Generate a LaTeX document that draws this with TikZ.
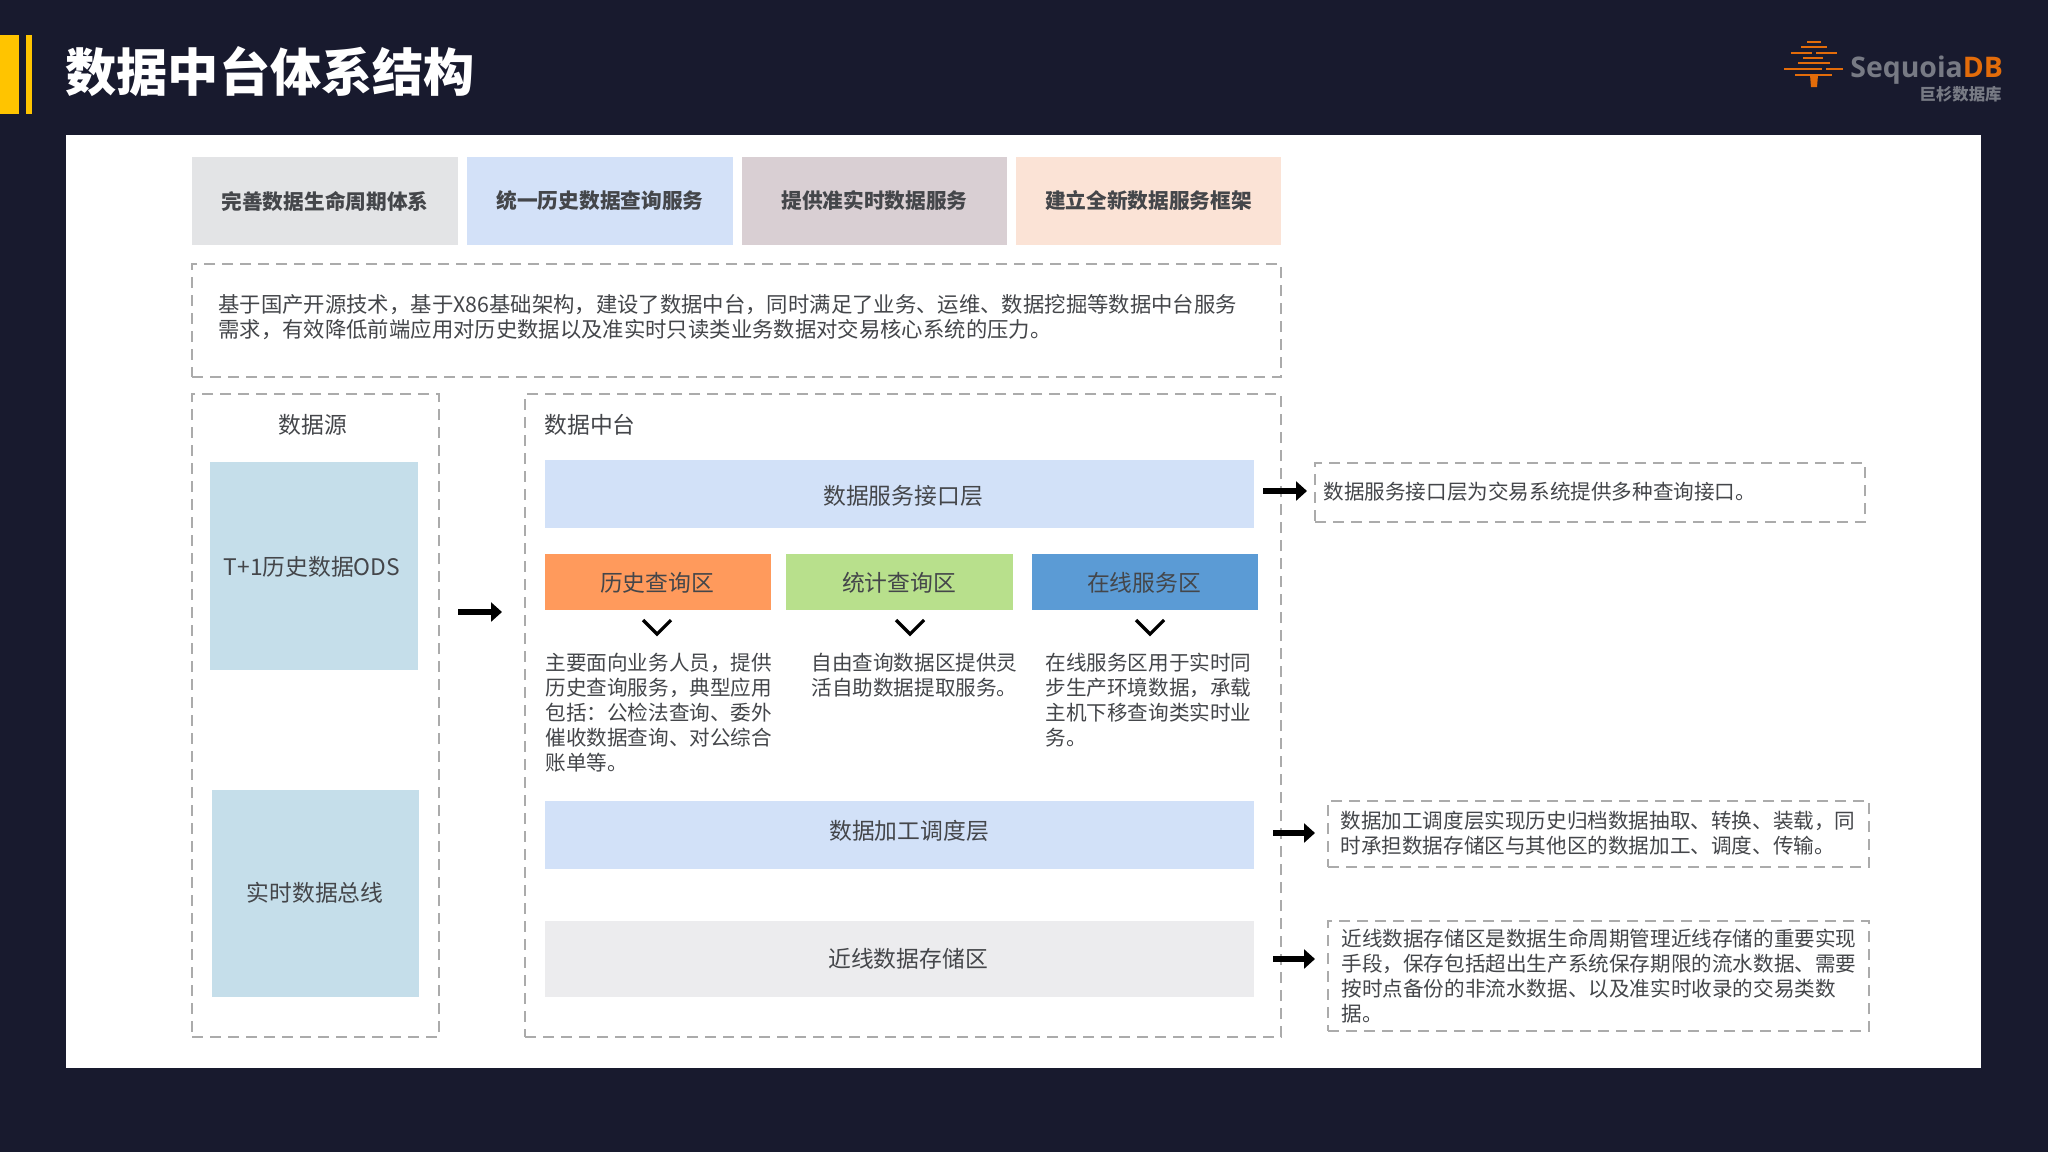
\documentclass[tikz,border=0pt]{standalone}
\usepackage{fontspec}
\usetikzlibrary{arrows.meta}
\setmainfont{Noto Sans CJK SC}
\newfontfamily\latinlogo{Open Sans}
\definecolor{pagebg}{HTML}{181A2E}
\definecolor{amber}{HTML}{FFC400}
\definecolor{inktext}{HTML}{44464A}
\definecolor{dashgray}{HTML}{ABABAB}
\definecolor{topa}{HTML}{E3E4E6}
\definecolor{topb}{HTML}{D3E1F8}
\definecolor{topc}{HTML}{D9CFD3}
\definecolor{topd}{HTML}{FBE3D6}
\definecolor{layerblue}{HTML}{D2E1F8}
\definecolor{layergray}{HTML}{ECECEE}
\definecolor{srcblue}{HTML}{C5DEEA}
\definecolor{zoneorange}{HTML}{FF9A5C}
\definecolor{zonegreen}{HTML}{B8E08C}
\definecolor{zoneblue}{HTML}{5B9BD5}
\definecolor{logoorange}{HTML}{E36C0A}
\definecolor{logogray}{HTML}{777A84}
\newcommand{\bx}[7]{%
  \pgfmathsetmacro\cxx{(#2+#4)/2}\pgfmathsetmacro\cyy{(#3+#5)/2}%
  \pgfmathsetmacro\ww{(#4-#2)*0.5}\pgfmathsetmacro\hh{(#5-#3)*0.5}%
  \node[#6,minimum width=\ww pt,minimum height=\hh pt,inner sep=0pt] (#1) at (\cxx,\cyy) {#7};}
\tikzset{
  flatbox/.style={draw=none,text=inktext},
  topbox/.style={flatbox,font=\fontsize{10.35}{12}\selectfont\bfseries},
  layerbox/.style={flatbox,font=\fontsize{11.4}{13}\selectfont},
  dashbox/.style={draw=dashgray,line width=0.6pt,dash pattern=on 5.5pt off 3.5pt},
  bodytext/.style={anchor=west,align=left,inner sep=0pt,text=inktext,font=\fontsize{10.3}{12.5}\selectfont},
  headtext/.style={inner sep=0pt,text=inktext,font=\fontsize{11.4}{13}\selectfont},
  blockarrow/.style={black,line width=2.8pt,-{Triangle[length=5.5pt,width=9.5pt]}},
  chevron/.style={black,line width=1.6pt,miter limit=4},
  logoline/.style={logoorange,line width=1.1pt}
}
\begin{document}
\begin{tikzpicture}[x=0.5pt,y=-0.5pt]
\useasboundingbox (0,0) rectangle (2048,1152);
\fill[pagebg] (0,0) rectangle (2048,1152);
\fill[amber] (0,35) rectangle (19,114);
\fill[amber] (26,35) rectangle (32,114);
\node[anchor=west,inner sep=0pt,text=white,font=\fontsize{25.6}{30}\selectfont\bfseries] (title) at (65,72) {数据中台体系结构};
\bx{panel}{66}{135}{1981}{1068}{fill=white}{}
% logo
\draw[logoline] (1807,42) -- (1821,42);
\draw[logoline] (1801,47) -- (1827,47);
\draw[logoline] (1791,53) -- (1812,53) (1816,53) -- (1837,53);
\draw[logoline] (1803,58) -- (1823,58);
\draw[logoline] (1798,63) -- (1830,63);
\draw[logoline] (1784,69) -- (1822,69) (1826,69) -- (1843,69);
\draw[logoline] (1795,75) -- (1832,75);
\fill[logoorange] (1810,75) -- (1818,75) -- (1817,87) -- (1811,87) -- cycle;
\node[anchor=west,inner sep=0pt,font=\latinlogo\fontsize{14.2}{18}\selectfont\bfseries,text=logogray] (logotext) at (1850,70) {Sequoia\textcolor{logoorange}{DB}};
\node[anchor=east,inner sep=0pt,font=\fontsize{8.2}{9}\selectfont\bfseries,text=logogray] (logocn) at (2002,94) {巨杉数据库};
% top boxes
\bx{goala}{192}{157}{458}{245}{topbox,fill=topa}{完善数据生命周期体系}
\bx{goalb}{467}{157}{733}{245}{topbox,fill=topb}{统一历史数据查询服务}
\bx{goalc}{742}{157}{1007}{245}{topbox,fill=topc}{提供准实时数据服务}
\bx{goald}{1016}{157}{1281}{245}{topbox,fill=topd}{建立全新数据服务框架}
% description
\bx{descbox}{192}{264}{1281}{377}{dashbox}{}
\node[bodytext,font=\fontsize{10.68}{12.5}\selectfont] (desctext) at (218,317) {基于国产开源技术，基于X86基础架构，建设了数据中台，同时满足了业务、运维、数据挖掘等数据中台服务\\需求，有效降低前端应用对历史数据以及准实时只读类业务数据对交易核心系统的压力。};
% source frame
\bx{srcframe}{192}{394}{439}{1037}{dashbox}{}
\node[headtext] (srchead) at (313,425) {数据源};
\bx{srca}{210}{462}{418}{670}{layerbox,fill=srcblue}{}
\node[headtext] (srcatext) at (312,567) {T+1历史数据ODS};
\bx{srcb}{212}{790}{419}{997}{layerbox,fill=srcblue}{}
\node[headtext] (srcbtext) at (315,893) {实时数据总线};
% platform frame
\bx{midframe}{525}{394}{1281}{1037}{dashbox}{}
\node[headtext,anchor=west] (midhead) at (544,425) {数据中台};
\bx{layera}{545}{460}{1254}{528}{layerbox,fill=layerblue}{}
\node[headtext] (layeratext) at (903,495.5) {数据服务接口层};
\bx{zonea}{545}{554}{771}{610}{layerbox,fill=zoneorange}{}
\node[headtext] (zoneatext) at (657,583) {历史查询区};
\bx{zoneb}{786}{554}{1013}{610}{layerbox,fill=zonegreen}{}
\node[headtext] (zonebtext) at (899,583) {统计查询区};
\bx{zonec}{1032}{554}{1258}{610}{layerbox,fill=zoneblue}{}
\node[headtext] (zonectext) at (1144,583) {在线服务区};
\bx{layerb}{545}{801}{1254}{869}{layerbox,fill=layerblue}{}
\node[headtext] (layerbtext) at (909,831) {数据加工调度层};
\bx{layerc}{545}{921}{1254}{997}{layerbox,fill=layergray}{}
\node[headtext] (layerctext) at (908,959) {近线数据存储区};
% chevrons
\draw[chevron] (643,620) -- (657,634) -- (671,620);
\draw[chevron] (896,620) -- (910,634) -- (924,620);
\draw[chevron] (1136,620) -- (1150,634) -- (1164,620);
% zone texts
\node[bodytext] (texta) at (545,712.5) {主要面向业务人员，提供\\历史查询服务，典型应用\\包括：公检法查询、委外\\催收数据查询、对公综合\\账单等。};
\node[bodytext] (textb) at (811,675) {自由查询数据区提供灵\\活自助数据提取服务。};
\node[bodytext] (textc) at (1045,700) {在线服务区用于实时同\\步生产环境数据，承载\\主机下移查询类实时业\\务。};
% notes
\bx{notea}{1315}{463}{1865}{522}{dashbox}{}
\node[bodytext] (noteatext) at (1323,491.5) {数据服务接口层为交易系统提供多种查询接口。};
\bx{noteb}{1328}{801}{1869}{867}{dashbox}{}
\node[bodytext] (notebtext) at (1340,833.5) {数据加工调度层实现历史归档数据抽取、转换、装载，同\\时承担数据存储区与其他区的数据加工、调度、传输。};
\bx{notec}{1328}{921}{1869}{1031}{dashbox}{}
\node[bodytext] (notectext) at (1341,976) {近线数据存储区是数据生命周期管理近线存储的重要实现\\手段，保存包括超出生产系统保存期限的流水数据、需要\\按时点备份的非流水数据、以及准实时收录的交易类数\\据。};
% arrows
\coordinate (ma) at (458,612);
\coordinate (mb) at (502,612);
\draw[blockarrow] (ma) -- (mb);
\coordinate (ra) at (1263,491);
\coordinate (rb) at (1307,491);
\draw[blockarrow] (ra) -- (rb);
\coordinate (rc) at (1273,833);
\coordinate (rd) at (1315,833);
\draw[blockarrow] (rc) -- (rd);
\coordinate (re) at (1273,959);
\coordinate (rf) at (1315,959);
\draw[blockarrow] (re) -- (rf);
\end{tikzpicture}
\end{document}
